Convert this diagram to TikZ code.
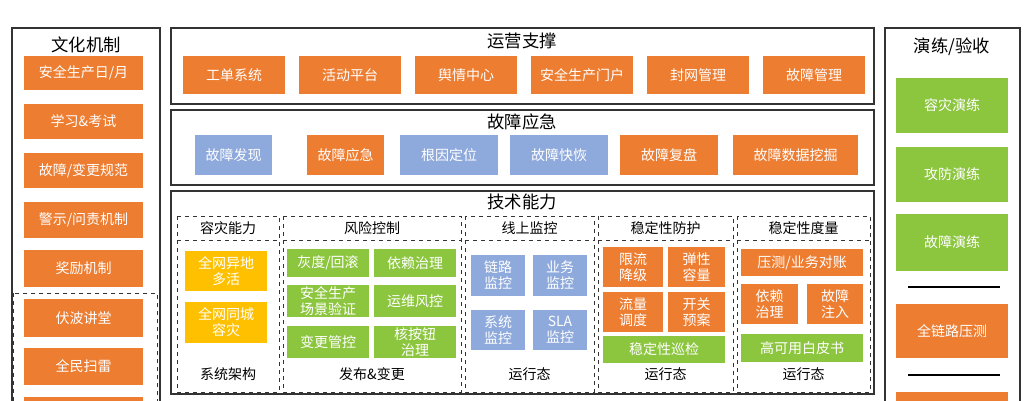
\documentclass[tikz,border=0pt]{standalone}
\usepackage{fontspec}
\setmainfont{Noto Sans CJK SC}
\definecolor{org}{HTML}{ED7D31}
\definecolor{grn}{HTML}{8CC63F}
\definecolor{blu}{HTML}{8EA9DB}
\definecolor{ylw}{HTML}{FFC000}
\tikzset{
  blk/.style={inner sep=0pt, align=center, text=white, font=\fontsize{10.5}{12}\selectfont},
  frame/.style={draw=black!80, line width=0.9pt},
  dframe/.style={draw=black!80, dashed, line width=0.7pt},
  title/.style={font=\fontsize{13}{15}\selectfont},
  sub/.style={font=\fontsize{10.5}{12}\selectfont}
}
\newcommand{\blkat}[7]{%
  \node[blk, fill=#6, minimum width={(#4-#2)*0.75pt}, minimum height={(#5-#3)*0.75pt}]
    at ({(#2+#4)/2},{(#3+#5)/2}) (#1) {#7};}
\begin{document}
\begin{tikzpicture}[x=0.75pt,y=-0.75pt]
    \useasboundingbox (0,0) rectangle (1032,400);
    \clip (0,0) rectangle (1032,400);
    \fill[white] (0,0) rectangle (1032,400);

    % culture
    \draw[frame] (12,28) rectangle (160,420);
    \node[title] at (86,45) (cult) {文化机制};
    \blkat{c1}{24}{56}{143}{90}{org}{安全生产日/月}
    \blkat{c2}{24}{104}{143}{139}{org}{学习\&考试}
    \blkat{c3}{24}{153}{143}{188}{org}{故障/变更规范}
    \blkat{c4}{24}{202}{143}{238}{org}{警示/问责机制}
    \blkat{c5}{24}{250}{143}{287}{org}{奖励机制}
    \draw[dframe] (13,293) rectangle (157,420);
    \blkat{c6}{24}{299}{143}{337}{org}{伏波讲堂}
    \blkat{c7}{24}{348}{143}{385}{org}{全民扫雷}
    \blkat{c8}{24}{397}{143}{432}{org}{}

    % ops support
    \draw[frame] (171,28) rectangle (874,104);
    \node[title] at (522,41) (ops) {运营支撑};
    \blkat{o1}{183}{56}{285}{94}{org}{工单系统}
    \blkat{o2}{299}{56}{401}{94}{org}{活动平台}
    \blkat{o3}{415}{56}{517}{94}{org}{舆情中心}
    \blkat{o4}{531}{56}{633}{94}{org}{安全生产门户}
    \blkat{o5}{647}{56}{749}{94}{org}{封网管理}
    \blkat{o6}{763}{56}{865}{94}{org}{故障管理}

    % emergency
    \draw[frame] (171,110) rectangle (874,185);
    \node[title] at (522,122) (emg) {故障应急};
    \blkat{e1}{195}{135}{272}{175}{blu}{故障发现}
    \blkat{e2}{307}{135}{384}{175}{org}{故障应急}
    \blkat{e3}{400}{135}{498}{175}{blu}{根因定位}
    \blkat{e4}{510}{135}{608}{175}{blu}{故障快恢}
    \blkat{e5}{620}{135}{718}{175}{org}{故障复盘}
    \blkat{e6}{733}{135}{858}{175}{org}{故障数据挖掘}

    % tech
    \draw[frame] (171,191) rectangle (874,394);
    \node[title] at (522,202) (tech) {技术能力};
    \foreach \xa/\xb/\hd/\ft/\nm in {177/279/容灾能力/系统架构/t1, 283/461/风险控制/发布\&变更/t2,
        465/594/线上监控/运行态/t3, 598/733/稳定性防护/运行态/t4, 737/870/稳定性度量/运行态/t5}{
      \draw[dframe] (\xa,216) rectangle (\xb,392);
      \draw[dframe] (\xa,240) -- (\xb,240);
      \node[sub] at ({(\xa+\xb)/2},228) (\nm h) {\hd};
      \node[sub] at ({(\xa+\xb)/2},374) (\nm f) {\ft};
    }
    \blkat{k1}{185}{251}{267}{291}{ylw}{全网异地\\多活}
    \blkat{k2}{185}{302}{267}{343}{ylw}{全网同城\\容灾}
    \blkat{r1}{287}{249}{369}{277}{grn}{灰度/回滚}
    \blkat{r2}{374}{249}{456}{277}{grn}{依赖治理}
    \blkat{r3}{287}{285}{369}{317}{grn}{安全生产\\场景验证}
    \blkat{r4}{374}{285}{456}{317}{grn}{运维风控}
    \blkat{r5}{287}{326}{369}{358}{grn}{变更管控}
    \blkat{r6}{374}{326}{456}{358}{grn}{核按钮\\治理}
    \blkat{m1}{471}{255}{525}{296}{blu}{链路\\监控}
    \blkat{m2}{533}{255}{587}{296}{blu}{业务\\监控}
    \blkat{m3}{471}{310}{525}{350}{blu}{系统\\监控}
    \blkat{m4}{533}{310}{587}{350}{blu}{SLA\\监控}
    \blkat{p1}{603}{247}{663}{287}{org}{限流\\降级}
    \blkat{p2}{668}{247}{725}{287}{org}{弹性\\容量}
    \blkat{p3}{603}{292}{663}{332}{org}{流量\\调度}
    \blkat{p4}{668}{292}{725}{332}{org}{开关\\预案}
    \blkat{p5}{603}{336}{725}{363}{grn}{稳定性巡检}
    \blkat{q1}{741}{249}{863}{276}{org}{压测/业务对账}
    \blkat{q2}{741}{284}{798}{324}{org}{依赖\\治理}
    \blkat{q3}{807}{284}{863}{324}{org}{故障\\注入}
    \blkat{q4}{741}{334}{863}{362}{grn}{高可用白皮书}

    % drills
    \draw[frame] (885,28) rectangle (1020,420);
    \node[title] at (952,47) (drill) {演练/验收};
    \blkat{d1}{896}{78}{1008}{133}{grn}{容灾演练}
    \blkat{d2}{896}{147}{1008}{202}{grn}{攻防演练}
    \blkat{d3}{896}{214}{1008}{271}{grn}{故障演练}
    \draw[line width=0.8pt] (908,287) -- (1000,287);
    \blkat{d4}{896}{304}{1008}{358}{org}{全链路压测}
    \draw[line width=0.8pt] (908,375) -- (1000,375);
    \blkat{d5}{896}{392}{1008}{440}{org}{}
\end{tikzpicture}
\end{document}
